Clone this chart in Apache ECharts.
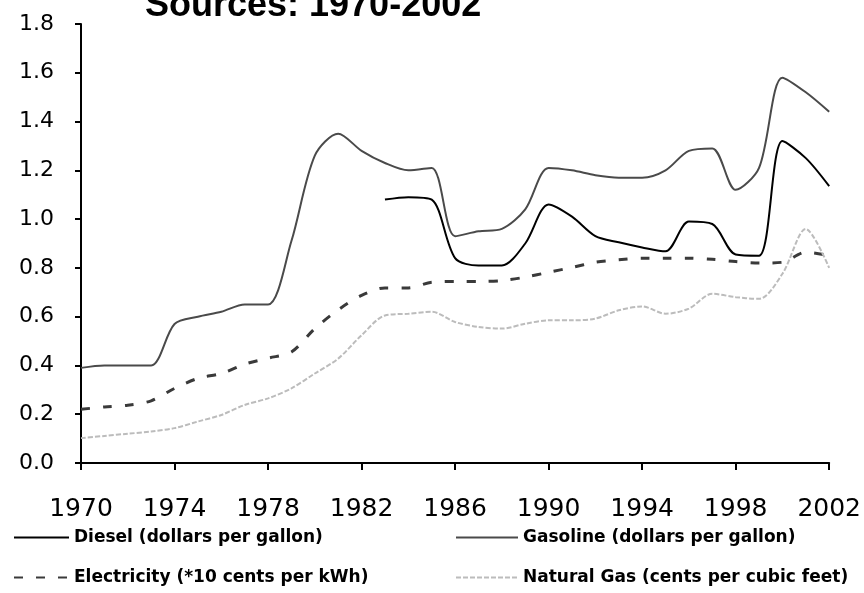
<!DOCTYPE html>
<html>
<head>
<meta charset="utf-8">
<script src="https://cdn.jsdelivr.net/npm/echarts@6/dist/echarts.min.js"></script>
<style>
html,body{margin:0;padding:0;background:#fff;}
#chart{width:864px;height:593px;}
</style>
</head>
<body>
<div id="chart"></div>
<script>
const years = [1970,1971,1972,1973,1974,1975,1976,1977,1978,1979,1980,1981,1982,1983,1984,1985,1986,1987,1988,1989,1990,1991,1992,1993,1994,1995,1996,1997,1998,1999,2000,2001,2002];
const gasoline = [0.39,0.40,0.40,0.40,0.57,0.60,0.62,0.65,0.65,0.91,1.26,1.35,1.28,1.23,1.20,1.21,0.93,0.95,0.96,1.04,1.21,1.20,1.18,1.17,1.17,1.20,1.28,1.29,1.12,1.21,1.58,1.52,1.44];
const diesel = [null,null,null,null,null,null,null,null,null,null,null,null,null,1.08,1.09,1.08,0.84,0.81,0.81,0.90,1.06,1.01,0.93,0.905,0.884,0.868,0.99,0.98,0.855,0.85,1.32,1.25,1.135];
const electricity = [0.22,0.23,0.237,0.255,0.306,0.347,0.367,0.405,0.43,0.455,0.551,0.628,0.687,0.718,0.718,0.741,0.744,0.744,0.748,0.762,0.782,0.802,0.823,0.833,0.84,0.84,0.84,0.835,0.826,0.82,0.823,0.864,0.85];
const naturalGas = [0.102,0.111,0.12,0.129,0.143,0.17,0.197,0.238,0.265,0.306,0.367,0.428,0.524,0.605,0.612,0.62,0.578,0.558,0.551,0.571,0.585,0.585,0.592,0.626,0.642,0.612,0.633,0.694,0.68,0.673,0.776,0.96,0.80];
const yTicks = [0,0.2,0.4,0.6,0.8,1.0,1.2,1.4,1.6,1.8];
const names = ['Diesel (dollars per gallon)','Gasoline (dollars per gallon)','Electricity (*10 cents per kWh)','Natural Gas (cents per cubic feet)'];

const pairs = arr => years.map((y,i)=>[y, arr[i]]);
const chart = echarts.init(document.getElementById('chart'));
const legendText = {color:'#000', fontFamily:'DejaVu Sans', fontWeight:'bold', fontSize:17};
function lg(name, left, top, w){
  return {data:[name], left:left, top:top, itemWidth:w, itemHeight:14, textStyle:legendText, selectedMode:false, padding:0, itemGap:0,
    itemStyle:{opacity:0}, lineStyle:{opacity:1}};
}
chart.setOption({
  backgroundColor:'#fff',
  animation:false,
  graphic:[{type:'text', left:145, top:-12, style:{text:'Sources: 1970-2002', font:'bold 36px "Liberation Sans", Arial', fill:'#000'}}],
  grid:{left:81, right:34, top:24, bottom:130},
  legend:[
    lg(names[0], 13, 529, 55),
    lg(names[1], 455, 529, 62),
    lg(names[2], 13, 569, 55),
    lg(names[3], 455, 569, 62)
  ],
  xAxis:{type:'value', min:1970, max:2002, interval:4,
    axisLine:{lineStyle:{color:'#000', width:2}},
    axisTick:{show:true, length:7, lineStyle:{color:'#000', width:2}},
    axisLabel:{color:'#000', fontFamily:'DejaVu Sans', fontSize:25, margin:34, formatter:v=>String(v)},
    splitLine:{show:false}},
  yAxis:{type:'value', min:yTicks[0], max:yTicks[yTicks.length-1], interval:0.2,
    axisLine:{show:true, lineStyle:{color:'#000', width:2}},
    axisTick:{show:true, length:6, lineStyle:{color:'#000', width:2}},
    axisLabel:{color:'#000', fontFamily:'DejaVu Sans', fontSize:22, margin:27, formatter:v=>v.toFixed(1)},
    splitLine:{show:false}},
  series:[
    {name:names[0], type:'line', data:pairs(diesel), smooth:0.3, symbol:'none', lineStyle:{color:'#000', width:2}, itemStyle:{color:'#000'}},
    {name:names[1], type:'line', data:pairs(gasoline), smooth:0.3, symbol:'none', lineStyle:{color:'#4a4a4a', width:2}, itemStyle:{color:'#4a4a4a'}},
    {name:names[2], type:'line', data:pairs(electricity), smooth:0.3, symbol:'none', lineStyle:{color:'#3a3a3a', width:3, type:[9,13]}, itemStyle:{color:'#3a3a3a'}},
    {name:names[3], type:'line', data:pairs(naturalGas), smooth:0.3, symbol:'none', lineStyle:{color:'#bcbcbc', width:2, type:[5,2]}, itemStyle:{color:'#bcbcbc'}}
  ]
});
</script>
</body>
</html>
